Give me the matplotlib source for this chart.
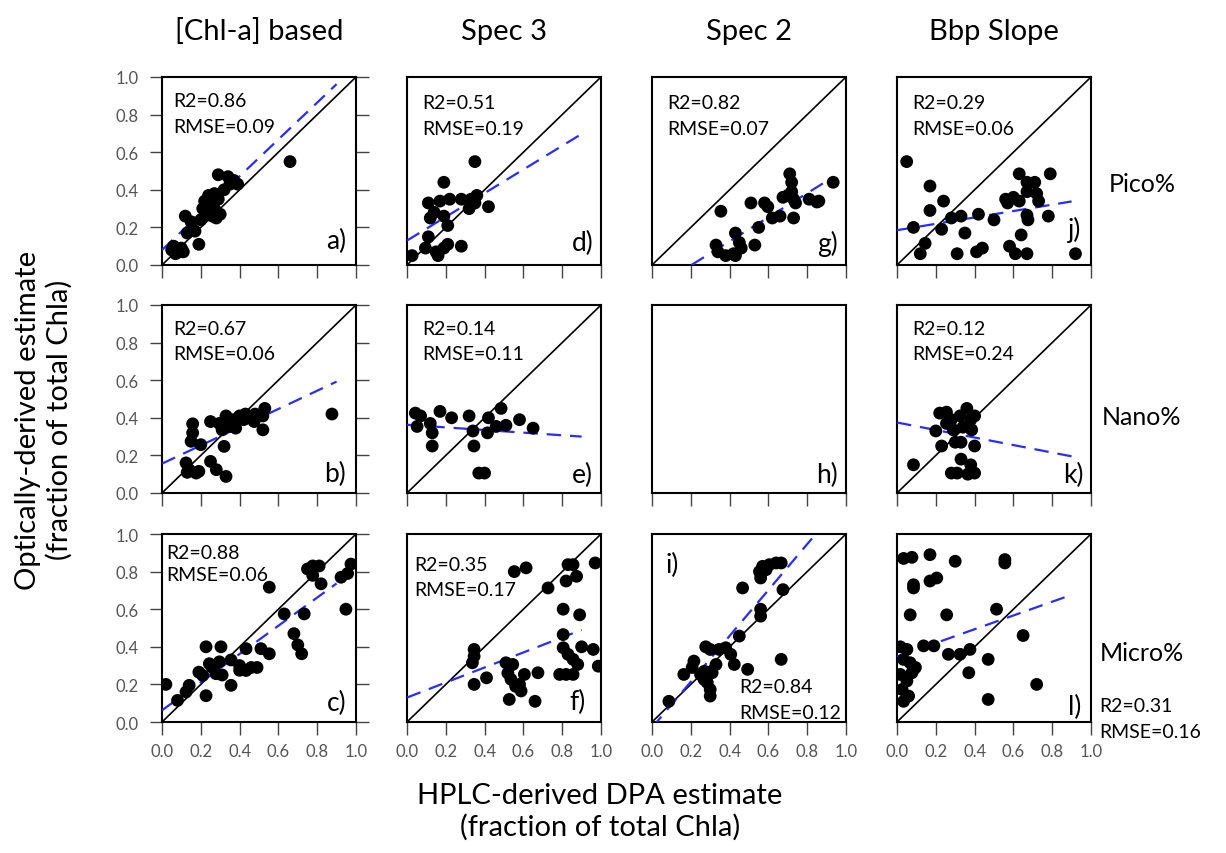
import matplotlib
matplotlib.use("Agg")
import matplotlib.pyplot as plt
import numpy as np

plt.rcParams["font.family"] = ["Lato", "DejaVu Sans"]

col_titles = ["[Chl-a] based", "Spec 3", "Spec 2", "Bbp Slope"]
row_titles = ["Pico%", "Nano%", "Micro%"]
ticks = [0.0, 0.2, 0.4, 0.6, 0.8, 1.0]

# --- panel data (x = HPLC, y = optical) ---
a_x = [0.05, 0.07, 0.09, 0.11, 0.06, 0.10, 0.13, 0.12, 0.15, 0.17, 0.19, 0.20, 0.21, 0.22, 0.23,
       0.24, 0.25, 0.26, 0.27, 0.28, 0.27, 0.29, 0.30, 0.29, 0.34, 0.35, 0.39, 0.32, 0.37, 0.66]
a_y = [0.08, 0.06, 0.07, 0.07, 0.10, 0.09, 0.17, 0.26, 0.23, 0.18, 0.11, 0.24, 0.30, 0.34, 0.28,
       0.37, 0.33, 0.26, 0.30, 0.25, 0.38, 0.35, 0.27, 0.48, 0.47, 0.43, 0.43, 0.40, 0.45, 0.55]

d_x = [0.35, 0.19, 0.11, 0.17, 0.22, 0.28, 0.33, 0.36, 0.42, 0.12, 0.19, 0.21, 0.14, 0.11, 0.095,
       0.15, 0.19, 0.21, 0.28, 0.026, 0.16, 0.32, 0.35]
d_y = [0.55, 0.44, 0.33, 0.34, 0.35, 0.35, 0.35, 0.37, 0.31, 0.25, 0.26, 0.21, 0.28, 0.15, 0.09,
       0.07, 0.09, 0.11, 0.10, 0.05, 0.05, 0.30, 0.33]

g_x = [0.355, 0.51, 0.58, 0.597, 0.71, 0.72, 0.934, 0.675, 0.70, 0.73, 0.74, 0.81, 0.85, 0.86,
       0.62, 0.66, 0.73, 0.55, 0.43, 0.53, 0.33, 0.34, 0.38, 0.42, 0.46, 0.45, 0.43, 0.72]
g_y = [0.286, 0.33, 0.33, 0.31, 0.485, 0.44, 0.44, 0.36, 0.37, 0.35, 0.33, 0.35, 0.335, 0.34,
       0.25, 0.26, 0.25, 0.20, 0.17, 0.106, 0.106, 0.07, 0.05, 0.06, 0.09, 0.12, 0.05, 0.39]

j_x = [0.05, 0.17, 0.24, 0.17, 0.085, 0.23, 0.28, 0.33, 0.35, 0.42, 0.50, 0.145, 0.12, 0.31, 0.41,
       0.44, 0.58, 0.61, 0.67, 0.92, 0.64, 0.63, 0.79, 0.67, 0.71, 0.56, 0.60, 0.63, 0.57, 0.67,
       0.72, 0.73, 0.67, 0.675, 0.78]
j_y = [0.55, 0.42, 0.34, 0.29, 0.20, 0.19, 0.25, 0.26, 0.17, 0.27, 0.24, 0.115, 0.06, 0.06, 0.07,
       0.09, 0.10, 0.06, 0.06, 0.06, 0.16, 0.485, 0.485, 0.44, 0.44, 0.35, 0.36, 0.34, 0.33, 0.39,
       0.38, 0.34, 0.265, 0.24, 0.26]

b_x = [0.876, 0.158, 0.158, 0.15, 0.20, 0.124, 0.14, 0.176, 0.19, 0.13, 0.25, 0.28, 0.33, 0.32,
       0.25, 0.295, 0.33, 0.364, 0.40, 0.42, 0.45, 0.475, 0.52, 0.53, 0.52, 0.31, 0.35, 0.43,
       0.48, 0.38]
b_y = [0.42, 0.368, 0.32, 0.275, 0.257, 0.16, 0.124, 0.106, 0.115, 0.11, 0.168, 0.124, 0.088, 0.248,
       0.38, 0.37, 0.41, 0.39, 0.41, 0.39, 0.40, 0.38, 0.336, 0.45, 0.41, 0.336, 0.354, 0.42,
       0.42, 0.345]

e_x = [0.043, 0.07, 0.052, 0.12, 0.13, 0.13, 0.17, 0.23, 0.32, 0.34, 0.345, 0.37, 0.40, 0.415,
       0.42, 0.46, 0.485, 0.51, 0.58, 0.65]
e_y = [0.425, 0.41, 0.354, 0.37, 0.32, 0.25, 0.434, 0.40, 0.41, 0.33, 0.25, 0.106, 0.106, 0.32,
       0.40, 0.354, 0.45, 0.36, 0.39, 0.345]

h_x = []
h_y = []

k_x = [0.085, 0.20, 0.23, 0.22, 0.255, 0.28, 0.255, 0.29, 0.325, 0.36, 0.38, 0.40, 0.34, 0.385,
       0.30, 0.33, 0.40, 0.33, 0.38, 0.40, 0.28, 0.31, 0.365]
k_y = [0.15, 0.33, 0.25, 0.425, 0.43, 0.39, 0.37, 0.336, 0.41, 0.45, 0.39, 0.41, 0.35, 0.336,
       0.27, 0.27, 0.25, 0.18, 0.15, 0.106, 0.106, 0.106, 0.10]

c_x = [0.02, 0.08, 0.124, 0.14, 0.227, 0.19, 0.227, 0.304, 0.244, 0.278, 0.296, 0.31, 0.356, 0.356,
       0.40, 0.433, 0.433, 0.49, 0.51, 0.553, 0.553, 0.63, 0.68, 0.70, 0.72, 0.733, 0.75, 0.777,
       0.81, 0.777, 0.82, 0.923, 0.957, 0.974, 0.948, 0.21, 0.26, 0.40, 0.46]
c_y = [0.20, 0.115, 0.16, 0.195, 0.14, 0.265, 0.40, 0.40, 0.31, 0.257, 0.32, 0.25, 0.195, 0.33,
       0.30, 0.274, 0.39, 0.29, 0.39, 0.363, 0.717, 0.575, 0.47, 0.41, 0.363, 0.575, 0.814, 0.83,
       0.83, 0.78, 0.735, 0.77, 0.79, 0.84, 0.60, 0.248, 0.29, 0.275, 0.29]

f_x = [0.553, 0.614, 0.727, 0.83, 0.856, 0.97, 0.874, 0.82, 0.805, 0.89, 0.805, 0.805, 0.83, 0.856,
       0.88, 0.90, 0.96, 0.986, 0.787, 0.82, 0.856, 0.346, 0.346, 0.337, 0.346, 0.41, 0.51, 0.545,
       0.52, 0.536, 0.56, 0.588, 0.605, 0.675, 0.527, 0.66, 0.58]
f_y = [0.80, 0.82, 0.713, 0.837, 0.837, 0.846, 0.775, 0.75, 0.60, 0.57, 0.465, 0.395, 0.36, 0.333,
       0.306, 0.40, 0.386, 0.297, 0.253, 0.253, 0.253, 0.386, 0.35, 0.315, 0.20, 0.235, 0.315, 0.306,
       0.26, 0.227, 0.19, 0.165, 0.253, 0.262, 0.12, 0.11, 0.20]

i_x = [0.087, 0.164, 0.216, 0.207, 0.25, 0.268, 0.285, 0.30, 0.30, 0.277, 0.30, 0.33, 0.31, 0.346,
       0.38, 0.406, 0.424, 0.493, 0.45, 0.56, 0.56, 0.467, 0.675, 0.666, 0.554, 0.56, 0.57, 0.605,
       0.64, 0.666, 0.588, 0.27]
i_y = [0.11, 0.253, 0.324, 0.29, 0.253, 0.227, 0.21, 0.173, 0.138, 0.40, 0.386, 0.306, 0.262, 0.386,
       0.395, 0.36, 0.306, 0.28, 0.457, 0.60, 0.563, 0.713, 0.704, 0.333, 0.80, 0.766, 0.828, 0.837,
       0.846, 0.846, 0.81, 0.27]

l_x = [0.034, 0.077, 0.17, 0.30, 0.556, 0.556, 0.17, 0.205, 0.085, 0.085, 0.068, 0.256, 0.513, 0.65,
       0.137, 0.19, 0.265, 0.325, 0.376, 0.47, 0.37, 0.72, 0.47, 0.017, 0.051, 0.034, 0.068, 0.085,
       0.017, 0.051, 0.026, 0.06, 0.034, 0.077, 0.095]
l_y = [0.87, 0.876, 0.89, 0.855, 0.864, 0.846, 0.75, 0.766, 0.73, 0.713, 0.57, 0.57, 0.60, 0.46,
       0.405, 0.405, 0.36, 0.36, 0.386, 0.333, 0.262, 0.20, 0.12, 0.40, 0.386, 0.333, 0.315, 0.28,
       0.253, 0.218, 0.173, 0.138, 0.11, 0.262, 0.29]

# regression lines: (intercept, slope)
a_fit, d_fit, g_fit, j_fit = (0.08, 0.98), (0.13, 0.63), (-0.13, 0.64), (0.185, 0.17)
b_fit, e_fit, h_fit, k_fit = (0.156, 0.485), (0.363, -0.07), None, (0.375, -0.20)
c_fit, f_fit, i_fit, l_fit = (0.062, 0.75), (0.13, 0.40), (-0.03, 1.22), (0.347, 0.366)

a_stats, d_stats, g_stats, j_stats = ("0.86", "0.09"), ("0.51", "0.19"), ("0.82", "0.07"), ("0.29", "0.06")
b_stats, e_stats, h_stats, k_stats = ("0.67", "0.06"), ("0.14", "0.11"), None, ("0.12", "0.24")
c_stats, f_stats, i_stats, l_stats = ("0.88", "0.06"), ("0.35", "0.17"), ("0.84", "0.12"), ("0.31", "0.16")

panels = [
    [("a)", a_x, a_y, a_fit, a_stats), ("d)", d_x, d_y, d_fit, d_stats),
     ("g)", g_x, g_y, g_fit, g_stats), ("j)", j_x, j_y, j_fit, j_stats)],
    [("b)", b_x, b_y, b_fit, b_stats), ("e)", e_x, e_y, e_fit, e_stats),
     ("h)", h_x, h_y, h_fit, h_stats), ("k)", k_x, k_y, k_fit, k_stats)],
    [("c)", c_x, c_y, c_fit, c_stats), ("f)", f_x, f_y, f_fit, f_stats),
     ("i)", i_x, i_y, i_fit, i_stats), ("l)", l_x, l_y, l_fit, l_stats)],
]

W, H = 1226, 854
fig = plt.figure(figsize=(W / 100, H / 100), dpi=100)

col_left = [162, 407, 652, 897]
row_bottom = [266, 494, 723]
pw, ph = 194, 188

# stats text position (x, y of R2 line, y of RMSE line) in axes coords
stat_pos = {
    "a)": (0.06, 0.875, 0.735), "d)": (0.08, 0.865, 0.725), "g)": (0.08, 0.865, 0.725),
    "j)": (0.08, 0.865, 0.725), "b)": (0.06, 0.876, 0.743), "e)": (0.08, 0.876, 0.743),
    "k)": (0.08, 0.876, 0.743), "c)": (0.02, 0.90, 0.787), "f)": (0.035, 0.84, 0.705),
    "i)": (0.45, 0.19, 0.05), "l)": (1.04, 0.09, -0.05),
}
label_pos = {
    "a)": (0.95, 0.13), "d)": (0.96, 0.12), "g)": (0.96, 0.115), "j)": (0.95, 0.19),
    "b)": (0.95, 0.106), "e)": (0.96, 0.097), "h)": (0.96, 0.10), "k)": (0.96, 0.097),
    "c)": (0.95, 0.106), "f)": (0.92, 0.11), "l)": (0.95, 0.08),
}

for r in range(3):
    for c in range(4):
        name, xs, ys, fit, stats = panels[r][c]
        ax = fig.add_axes([col_left[c] / W, 1 - row_bottom[r] / H, pw / W, ph / H])
        ax.set_xlim(0, 1)
        ax.set_ylim(0, 1)
        if xs:
            ax.plot([0, 1], [0, 1], color="black", lw=1.2, zorder=2)
        if fit is not None:
            fx = np.array([0.0, 0.9])
            ax.plot(fx, fit[0] + fit[1] * fx, color="#2b2bff", lw=1.6,
                    dashes=(6.5, 4), zorder=3)
        if xs:
            ax.scatter(xs, ys, s=85, color="black", edgecolors="none", zorder=4)
        if stats is not None:
            sx, sy1, sy2 = stat_pos[name]
            ax.text(sx, sy1, "R2=" + stats[0], transform=ax.transAxes, fontsize=14,
                    va="center", ha="left", clip_on=False)
            ax.text(sx, sy2, "RMSE=" + stats[1], transform=ax.transAxes, fontsize=14,
                    va="center", ha="left", clip_on=False)
        if name == "i)":
            ax.text(0.07, 0.84, name, transform=ax.transAxes, fontsize=19,
                    va="center", ha="left")
        else:
            lx, ly = label_pos[name]
            ax.text(lx, ly, name, transform=ax.transAxes, fontsize=19,
                    va="center", ha="right")

        for s in ax.spines.values():
            s.set_linewidth(1.5)
        ax.set_xticks(ticks)
        ax.set_yticks(ticks)
        ax.tick_params(axis="x", direction="out", length=9, width=1, color="#444444",
                       pad=6, labelsize=12, labelcolor="#555555",
                       labelbottom=(r == 2))
        if c == 0:
            ax.tick_params(axis="y", direction="out", length=9, width=1, color="#444444",
                           pad=8, labelsize=12, labelcolor="#555555",
                           left=True, right=True, labelleft=True)
            ax.set_yticklabels([f"{t:.1f}" for t in ticks])
        else:
            ax.tick_params(axis="y", left=False, labelleft=False)
        if r == 2:
            ax.set_xticklabels([f"{t:.1f}" for t in ticks])

for c, t in enumerate(col_titles):
    fig.text((col_left[c] + pw / 2) / W, 1 - 32 / H, t, fontsize=21, ha="center", va="center")

row_y = [185, 418, 654]
for r, t in enumerate(row_titles):
    fig.text(1142 / W, 1 - row_y[r] / H, t, fontsize=18, ha="center", va="center")

fig.text(44 / W, 1 - 420 / H, "Optically-derived estimate\n(fraction of total Chla)",
         rotation=90, fontsize=21, ha="center", va="center", linespacing=1.25)
fig.text(600 / W, 1 - 812 / H, "HPLC-derived DPA estimate\n(fraction of total Chla)",
         fontsize=21, ha="center", va="center", linespacing=1.25)

fig.savefig("out.png", dpi=100)
